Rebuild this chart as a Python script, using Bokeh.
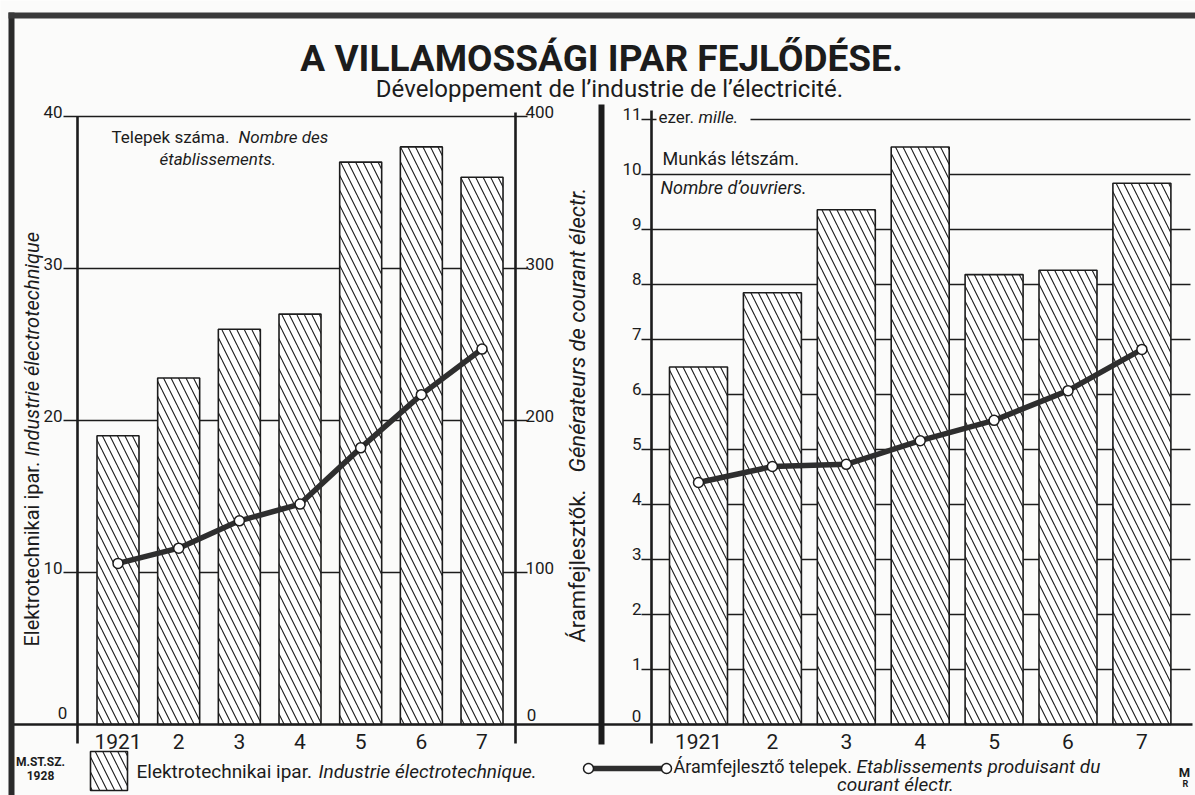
import math
from bokeh.plotting import figure
from bokeh.models import Range1d
from bokeh.core.properties import value
from bokeh.embed import file_html
from bokeh.resources import INLINE

# ---------------- data ----------------
years = ["1921", "2", "3", "4", "5", "6", "7"]
# left panel: number of establishments
elektro_telepek = [19.0, 22.8, 26.0, 27.0, 37.0, 38.0, 36.0]        # bars, scale 0-40
aramfejleszto_telepek = [106, 116, 134, 145, 182, 217, 247]         # line, scale 0-400
# right panel: number of workers (thousands)
elektro_munkas = [6.50, 7.85, 9.36, 10.50, 8.18, 8.26, 9.84]       # bars
aramfejleszto_munkas = [4.40, 4.69, 4.73, 5.16, 5.53, 6.07, 6.82]  # line

left_ticks = [10, 20, 30, 40]
left_tick_labels = ["10", "20", "30", "40"]
mid_ticks = [100, 200, 300, 400]
mid_tick_labels = ["100", "200", "300", "400"]
right_ticks = [1, 2, 3, 4, 5, 6, 7, 8, 9, 10, 11]
right_tick_labels = ["1", "2", "3", "4", "5", "6", "7", "8", "9", "10", "11"]

# ---------------- layout (design px) ----------------
W, H = 1195, 795
X_LEFT, X_RIGHT = 0, W
Y_TOP, Y_BOTTOM = 0, H
BASE_Y = 724
L_PPU = 15.2          # px per unit, left scale 0-40
R_PPU = 55.0          # px per unit, right scale 0-11
L_X0, L_PITCH, L_BARW = 117.5, 60.67, 42
R_X0, R_PITCH, R_BARW = 698, 73.9, 58
AX_L, AX_M, SEP, AX_R = 77, 515, 601, 651

INK = "#1c1c1c"
BG = "#fbfbfa"
FONT = "Roboto"


def vr(ppu, mult=1.0):
    return Range1d(start=(BASE_Y - Y_BOTTOM) / ppu * mult, end=(BASE_Y - Y_TOP) / ppu * mult)


def hr(x0, pitch):
    return Range1d(start=(X_LEFT - x0) / pitch, end=(X_RIGHT - x0) / pitch)


p = figure(width=W, height=H, x_range=Range1d(X_LEFT, X_RIGHT), y_range=Range1d(Y_BOTTOM, Y_TOP),
           x_axis_type=None, y_axis_type=None, toolbar_location=None, output_backend="svg",
           min_border=0, outline_line_color=None, background_fill_color=BG, border_fill_color=BG)
p.extra_y_ranges = {"L": vr(L_PPU), "G": vr(L_PPU, 10.0), "R": vr(R_PPU)}
p.extra_x_ranges = {"LX": hr(L_X0, L_PITCH), "RX": hr(R_X0, R_PITCH)}

idx = list(range(len(years)))


def txt(x, y, s, size, style="normal", align="left", baseline="middle", angle=0.0, **kw):
    p.text(x=[x], y=[y], text=[s], text_font=value(FONT), text_font_size=f"{size}px",
           text_font_style=style, text_align=align, text_baseline=baseline, angle=angle,
           text_color=INK, **kw)


# ---------------- grid lines ----------------
p.segment(x0=63, x1=527, y0=left_ticks, y1=left_ticks, y_range_name="L", line_color=INK, line_width=1.3)
p.segment(x0=641, x1=1190, y0=right_ticks[:-1], y1=right_ticks[:-1], y_range_name="R",
          line_color=INK, line_width=1.3)
p.segment(x0=[641, 750], x1=[656, 1190], y0=[11, 11], y1=[11, 11], y_range_name="R",
          line_color=INK, line_width=1.3)

# ---------------- bars ----------------
bar_kw = dict(fill_color="white", line_color=INK, line_width=1.6, hatch_pattern="\\",
              hatch_color=INK, hatch_scale=15, hatch_weight=1.1)
p.vbar(x=idx, top=elektro_telepek, bottom=0, width=L_BARW / L_PITCH,
       x_range_name="LX", y_range_name="L", **bar_kw)
p.vbar(x=idx, top=elektro_munkas, bottom=0, width=R_BARW / R_PITCH,
       x_range_name="RX", y_range_name="R", **bar_kw)

# ---------------- axis lines, frame ----------------
p.segment(x0=[AX_L, AX_M, AX_R], x1=[AX_L, AX_M, AX_R], y0=[116, 112, 110], y1=[743, 743, 743],
          line_color=INK, line_width=2.6)
p.segment(x0=[SEP], x1=[SEP], y0=[104], y1=[744], line_color=INK, line_width=6)
p.segment(x0=[10], x1=[1192], y0=[BASE_Y], y1=[BASE_Y], line_color=INK, line_width=2.6)
p.segment(x0=[11], x1=[11], y0=[12], y1=[795], line_color="#2a2a2a", line_width=6)
p.segment(x0=[8], x1=[1195], y0=[15], y1=[15], line_color="#3a3a3a", line_width=6)

# ---------------- lines ----------------
p.line(x=idx, y=aramfejleszto_telepek, x_range_name="LX", y_range_name="G",
       line_color="#2e2e2e", line_width=5.5)
p.scatter(x=idx, y=aramfejleszto_telepek, x_range_name="LX", y_range_name="G", size=10,
          fill_color="white", line_color=INK, line_width=1.5)
p.line(x=idx, y=aramfejleszto_munkas, x_range_name="RX", y_range_name="R",
       line_color="#2e2e2e", line_width=5.5)
p.scatter(x=idx, y=aramfejleszto_munkas, x_range_name="RX", y_range_name="R", size=10,
          fill_color="white", line_color=INK, line_width=1.5)

# ---------------- tick labels ----------------
tick_kw = dict(text_font=value(FONT), text_font_size="17px", text_color=INK, text_baseline="middle")
p.text(x=62, y=left_ticks, text=left_tick_labels, y_range_name="L", text_align="right", y_offset=-5, **tick_kw)
p.text(x=[62], y=[0], text=["0"], y_range_name="L", text_align="center", y_offset=-12, **tick_kw)
p.text(x=525, y=mid_ticks, text=mid_tick_labels, y_range_name="G", text_align="left", y_offset=-5, **tick_kw)
p.text(x=[531], y=[0], text=["0"], y_range_name="G", text_align="center", y_offset=-10, **tick_kw)
p.text(x=641, y=right_ticks, text=right_tick_labels, y_range_name="R", text_align="right", y_offset=-6, **tick_kw)
p.text(x=[636], y=[0], text=["0"], y_range_name="R", text_align="center", y_offset=-9, **tick_kw)

year_kw = dict(text_font=value(FONT), text_font_size="21px", text_color=INK,
               text_align="center", text_baseline="middle")
p.text(x=idx, y=741, text=years, x_range_name="LX", **year_kw)
p.text(x=idx, y=741, text=years, x_range_name="RX", **year_kw)

# ---------------- titles ----------------
txt(601, 58, "A VILLAMOSSÁGI IPAR FEJLŐDÉSE.", 37, style="bold", align="center")
txt(609, 88, "Développement de l’industrie de l’électricité.", 24, align="center")

# rotated axis titles
txt(31, 646, "Elektrotechnikai ipar.", 20, angle=math.pi / 2)
txt(31, 456, "Industrie électrotechnique", 20, style="italic", angle=math.pi / 2)
txt(577, 642, "Áramfejlesztők.", 22, angle=math.pi / 2)
txt(577, 472, "Générateurs de courant électr.", 22, style="italic", angle=math.pi / 2)

# panel annotations
txt(111, 136, "Telepek száma.", 17)
txt(238, 136, "Nombre des", 17, style="italic")
txt(159, 158, "établissements.", 17, style="italic")
txt(658, 116, "ezer.", 17)
txt(698, 116, "mille.", 17, style="italic")
txt(662, 158, "Munkás létszám.", 18)
txt(660, 187, "Nombre d’ouvriers.", 18, style="italic")

# ---------------- legend ----------------
txt(40, 761, "M.ST.SZ.", 12, style="bold", align="center")
txt(40, 775, "1928", 12, style="bold", align="center")
p.quad(left=[90], right=[127], top=[751], bottom=[790], **bar_kw)
txt(136, 771, "Elektrotechnikai ipar.", 19)
txt(318, 771, "Industrie électrotechnique.", 19, style="italic")
p.segment(x0=[588], x1=[666], y0=[768], y1=[768], line_color="#2e2e2e", line_width=5.5)
p.scatter(x=[588, 666], y=[768, 768], size=10, fill_color="white", line_color=INK, line_width=1.5)
txt(673, 766, "Áramfejlesztő telepek.", 18)
txt(856, 766, "Etablissements produisant du", 19, style="italic")
txt(895, 784, "courant électr.", 19, style="italic", align="center")
txt(1184, 772, "M", 13, style="bold", align="center")
txt(1185, 783, "R", 9, style="bold", align="center")

open("out.html", "w").write(file_html(p, INLINE))
